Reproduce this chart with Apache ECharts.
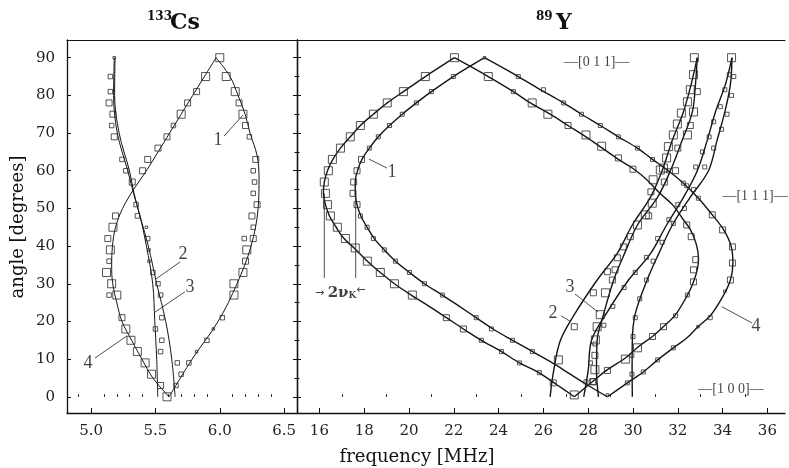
<!DOCTYPE html>
<html><head><meta charset="utf-8">
<script src="https://cdn.jsdelivr.net/npm/echarts@6.0.0/dist/echarts.min.js"></script>
<style>html,body{margin:0;padding:0;background:#fff}#c{width:789px;height:468px}</style>
</head><body><div id="c"></div>
<script>
// ---------- tick values ----------
var csTicks = [5.0, 5.5, 6.0, 6.5];
var csMinorTicks = [4.9, 5.1, 5.2, 5.3, 5.4, 5.6, 5.7, 5.8, 5.9, 6.1, 6.2, 6.3, 6.4];
var yTicks = [16, 18, 20, 22, 24, 26, 28, 30, 32, 34, 36];
var yMinorTicks = [17, 19, 21, 23, 25, 27, 29, 31, 33, 35];
var angleTicks = [0, 10, 20, 30, 40, 50, 60, 70, 80, 90];
var angleMinorTicks = [5, 15, 25, 35, 45, 55, 65, 75, 85];

// ---------- 133Cs curves [frequency MHz, angle deg] ----------
var csCurve1 = [[5.606,0],[5.785,10],[5.987,20],[6.134,30],[6.243,40],[6.298,50],[6.305,58],[6.29,64],[6.235,70],[6.197,75],[6.142,80],[6.08,85],[5.971,90]];
var csCurve4 = [[5.971,90],[5.79,80],[5.61,70],[5.43,60],[5.33,55],[5.245,50],[5.19,45],[5.166,40],[5.16,35],[5.168,30],[5.2,25],[5.24,20],[5.315,15],[5.395,10],[5.48,5],[5.606,0]];
var csCurve2 = [[5.186,90],[5.183,80],[5.218,70],[5.298,60],[5.334,54],[5.38,48],[5.445,40],[5.51,30],[5.58,20],[5.627,10],[5.653,0]];
var csCurve3 = [[5.18,90],[5.175,80],[5.204,70],[5.285,60],[5.33,54],[5.38,48],[5.43,40],[5.479,30],[5.495,20],[5.51,10],[5.518,0]];

// 133Cs measured points
var csBig = [[6.0,90],[5.89,85],[6.05,85],[6.12,81],[5.70,75],[6.18,75],[5.17,45],[5.15,39],[5.12,33],[5.16,30],[5.20,27],[5.27,18],[5.31,15],[5.36,12],[5.42,9],[5.47,6],[5.59,0],[6.21,39],[6.18,33],[6.11,30],[6.11,27]];
var csMedium = [[5.82,81],[5.75,78],[6.15,78],[6.2,72],[5.59,69],[5.52,66],[6.28,63],[5.44,63],[5.40,60],[5.32,57],[6.29,51],[5.19,48],[6.25,48],[6.26,42],[5.13,42],[6.2,36],[5.24,21],[5.54,3],[5.14,78],[5.17,75],[5.18,69]];
var csSmall = [[5.64,72],[6.23,69],[6.26,60],[6.27,57],[6.26,54],[6.26,45],[6.19,42],[5.15,85],[5.15,81],[5.16,72],[5.24,63],[5.27,60],[5.35,51],[5.36,48],[5.44,42],[5.14,36],[5.14,27],[5.48,33],[5.52,30],[5.54,27],[5.55,21],[5.50,18],[5.55,15],[5.54,12],[5.67,9],[5.70,6],[5.66,3],[6.02,21],[5.90,15],[5.76,9]];
var csTiny = [[5.18,90],[5.43,45],[5.45,39],[5.45,36],[5.95,18],[5.82,12]];

// ---------- 89Y curves ----------
var yALeft = [[22.03,90],[20.73,85],[19.75,81],[19.03,78],[18.41,75],[17.83,72],[17.38,69],[16.94,66],[16.6,63],[16.36,60],[16.22,57],[16.18,54],[16.27,51],[16.45,48],[16.75,45],[17.1,42],[17.55,39.5],[18.14,36],[18.72,33],[19.35,30],[20.1,27],[20.9,24],[21.67,21],[22.43,18],[23.23,15],[24.13,12],[24.93,9],[25.83,6.3],[26.6,3.2],[27.38,0]];
var yARight = [[27.38,0],[28.19,4],[28.86,7.2],[29.66,10.3],[30.24,13.3],[30.87,16],[31.36,18.6],[31.9,21.8],[32.43,27],[32.7,30.5],[32.88,34],[32.92,37],[32.8,41],[32.55,44.5],[32.25,47],[31.76,51],[31.2,54],[30.64,57.5],[30.0,60.6],[29.35,63],[28.63,66],[27.9,69],[27.1,72],[26.3,75],[25.42,78],[24.66,81],[23.54,85],[22.03,90]];
var yBLeft = [[23.37,90],[21.98,85],[21.0,81],[20.33,78],[19.7,75],[19.13,72],[18.63,69],[18.23,66],[17.9,63],[17.7,60],[17.6,57],[17.6,54],[17.68,51],[17.85,48],[18.13,45],[18.45,42],[18.9,39],[19.4,36],[20.02,33],[20.69,30],[21.49,27],[22.25,24],[23.0,21],[23.75,18],[24.62,15],[25.52,12],[26.4,9],[27.2,6],[28.0,3],[28.86,0]];
var yBRight = [[28.86,0],[29.75,3.7],[30.46,6.6],[31.1,9.8],[31.8,13],[32.4,15.6],[32.9,18.6],[33.45,21.5],[34.0,26.5],[34.35,31],[34.46,35.5],[34.38,40],[34.05,44.3],[33.54,48.3],[32.92,52.7],[32.25,56.7],[31.58,60],[30.87,63],[30.2,66],[29.35,69],[28.54,72],[27.7,75],[26.9,78],[25.9,81.4],[24.88,85],[23.37,90]];
var yA2 = [[26.3,0],[26.46,7],[26.76,15],[27.4,22],[28.4,31],[29.29,38],[29.97,45.6],[30.78,53],[31.3,60],[31.75,68],[32.25,75.6],[32.6,83],[32.87,90]];
var yA3 = [[28.46,0],[28.37,7],[28.4,15],[28.69,22],[29.14,31],[29.62,38],[30.2,45.6],[31.1,53],[31.67,60],[32.19,68],[32.65,75.6],[32.79,83],[32.87,90]];
var yB2 = [[27.8,0],[28.0,7],[28.15,15],[28.8,22],[29.8,31],[30.78,38],[31.5,45.6],[32.26,53],[32.87,60],[33.31,68],[33.68,75.6],[34.13,83],[34.42,90]];
var yB3 = [[29.97,0],[29.96,7],[29.97,15],[30.1,22],[30.63,31],[31.15,38],[31.76,45.6],[32.56,53],[33.37,60],[33.75,68],[34.1,75.6],[34.35,83],[34.42,90]];
var yKappa1 = [[16.22,54],[16.22,31.5]];
var yKappa2 = [[17.62,54],[17.62,31.5]];

// 89Y measured points
var yBig = [[22.03,90],[20.73,85],[19.75,81],[19.03,78],[18.41,75],[17.83,72],[17.38,69],[16.94,66],[16.58,63],[16.4,60],[16.22,57],[16.27,54],[16.36,51],[16.49,48],[16.8,45],[17.16,42],[17.6,39.5],[18.14,36],[18.72,33],[19.35,30],[20.15,27],
  [23.54,85],[25.5,78],[26.2,75],[27.9,69.5],[28.6,66.5],[30.2,13],[29.66,10],[27.38,0.5],
  [32.74,90],[32.7,85.5],[32.56,81.5],[32.43,78.3],[32.16,75.3],[31.98,72.4],[31.8,69.5],[31.58,66.4],[31.5,63.4],[31.22,60.2],[30.9,57.6],[30.86,51.4],[30.55,48.3],[30.2,45.6],[32.7,75.6],[32.43,69.5],[31.36,60.7],[28.77,27.6],[28.54,21.8],[28.4,18.6],[28.32,15.1],[28.3,7.2],[26.67,9.8],[34.4,90]];
var yMedium = [[21.67,21],[22.43,18],[17.88,63],[17.68,60],[17.53,57],[17.5,54],[17.68,51],[27.1,72],[29.35,63.4],[30.0,60.4],[32.4,45.6],[32.6,42.5],[32.8,36.4],[32.7,33.7],[32.7,30.5],[31.36,18.6],[30.87,16],[28.86,7],[28.2,4],[34.44,39.8],[34.44,35.5],[34.35,31],[33.54,48.3],[34.0,44.3],
  [32.87,81],[32.56,72],[32.0,66],[31.9,60],[31.4,57],[30.8,54.4],[30.7,48],[29.88,42.5],[29.57,39.8],[29.3,36.9],[29.2,33.7],[28.86,33.2],[29.08,31],[28.23,27.6],[27.38,18.6],[28.3,11],[28.23,4],[26.44,3.7]];
var ySmall = [[21.98,85],[21.0,81],[20.33,78],[19.7,75],[19.13,72],[18.63,69],[18.23,66],[17.83,48],[18.13,45],[18.41,42],[18.9,39],[19.4,36],[20.02,33],[20.69,30],[21.49,27],[23.0,21],[23.68,18],[24.62,15],[25.51,12],[23.23,15],[24.13,12],[24.93,9],[25.82,6.4],
  [24.88,85],[26.0,81.5],[26.9,78],[27.7,75],[28.54,72],[29.35,69],[30.2,66],[30.87,63],[31.58,60],[32.25,56.7],[32.92,52.7],[33.45,21],[31.8,13],[31.1,9.8],[30.46,6.6],[29.75,3.7],
  [24.66,81],[32.43,27],[31.9,21.5],
  [34.3,85.5],[34.1,81.5],[33.9,77],[33.6,73],[33.4,69],[33.1,65],[32.8,61],[32.4,56],[32.0,51],[31.6,47],[31.1,42],[30.6,37],[30.1,33],[29.6,29],[29.1,24],[28.7,19],[28.3,14],[28.1,9],[27.9,4],
  [34.5,85],[34.4,80],[34.2,75],[33.95,71],[33.6,66],[33.2,61],[32.7,55],[32.3,50],[31.8,46],[31.3,41],[30.9,36],[30.6,31],[30.3,26],[30.1,21],[30.0,16],[29.95,11],[29.95,6]];
var yTiny = [[23.37,90],[34.1,28],[32.9,18.6],[28.86,0.5]];

// ---------- annotation texts [frequency, angle, text] ----------
var csLabels = [[5.987,68.2,'1'],[5.715,37.7,'2'],[5.769,29.2,'3'],[4.977,9.0,'4']];
var csPointers = [[[6.033,69.2],[6.181,74.8]],[[5.692,35.8],[5.505,31.3]],[[5.73,27.9],[5.49,22.3]],[[5.031,10.3],[5.28,16.2]]];
var yLabels = [[19.24,59.7,'1'],[26.43,22.3,'2'],[27.19,29.2,'3'],[35.49,18.8,'4']];
var yPointers = [[[19.02,60.7],[18.21,63.1]],[[26.79,21.5],[27.23,19.9]],[[27.41,27.3],[28.44,22.5]],[[35.31,19.6],[33.97,23.9]]];
var yDirLabels = [[28.38,88.9,'—[0 1 1]—'],[35.45,53.3,'—[1 1 1]—'],[34.37,2.1,'—[1 0 0]—']];
var yKappaLabel = [[16.93,27.6,'k']];

var SERIF = 'DejaVu Serif';
var YMIN = -4.3, YMAX = 94.7;

function lineS(data, xi, yi, w) {
  return {type:'line', data:data, xAxisIndex:xi, yAxisIndex:yi, smooth:0.35, symbol:'none',
    lineStyle:{color:'#151515', width:w}, silent:true, z:3};
}
function ptrS(data, xi, yi) {
  return {type:'line', data:data, xAxisIndex:xi, yAxisIndex:yi, symbol:'none',
    lineStyle:{color:'#222', width:0.8}, silent:true, z:3};
}
function sqS(data, xi, yi, size, bw) {
  return {type:'scatter', data:data, xAxisIndex:xi, yAxisIndex:yi, symbol:'rect', symbolSize:size,
    itemStyle:{color:'rgba(0,0,0,0)', borderColor:'#2a2a2a', borderWidth:bw}, silent:true, z:4};
}
function txtS(data, xi, yi, font, size) {
  return {type:'scatter', data:data, xAxisIndex:xi, yAxisIndex:yi, symbolSize:0, silent:true, z:6,
    label:{show:true, position:'inside', formatter:function(p){return p.value[2];},
      fontFamily:font, fontSize:size, color:'#111'}};
}

var series = [
  lineS(csCurve1,0,0,1), lineS(csCurve4,0,0,1), lineS(csCurve2,0,0,1), lineS(csCurve3,0,0,1),
  sqS(csBig,0,0,8,1), sqS(csMedium,0,0,6,1), sqS(csSmall,0,0,4.5,1), sqS(csTiny,0,0,2.5,1),
  txtS(csLabels,0,0,'Liberation Serif',18),
  lineS(yALeft,3,3,1.4), lineS(yARight,3,3,1.4), lineS(yBLeft,3,3,1.4), lineS(yBRight,3,3,1.4),
  lineS(yA2,3,3,1.4), lineS(yA3,3,3,1.4), lineS(yB2,3,3,1.4), lineS(yB3,3,3,1.4),
  ptrS(yKappa1,3,3), ptrS(yKappa2,3,3),
  sqS(yBig,3,3,8,1), sqS(yMedium,3,3,6,1), sqS(ySmall,3,3,4,1), sqS(yTiny,3,3,2.5,1),
  txtS(yLabels,3,3,'Liberation Serif',18),
  txtS(yDirLabels,3,3,'Liberation Serif',14),
  {type:'scatter', data:yKappaLabel, xAxisIndex:3, yAxisIndex:3, symbolSize:0, silent:true, z:6,
    label:{show:true, position:'inside', formatter:'{a|→ }{b|2ν}{s|K}{c|←}',
      rich:{a:{fontFamily:'DejaVu Sans', fontSize:11, color:'#111'},
            c:{fontFamily:'DejaVu Sans', fontSize:11, color:'#111', padding:[0,0,6,0]},
            b:{fontFamily:SERIF, fontSize:15, fontWeight:'bold', color:'#111'},
            s:{fontFamily:SERIF, fontSize:9, fontWeight:'bold', color:'#111', padding:[6,0,0,0]}}}}
];
csPointers.forEach(function(p){ series.push(ptrS(p,0,0)); });
yPointers.forEach(function(p){ series.push(ptrS(p,3,3)); });

var AX = '#111';
function xMain(g, min, max, ticks, fmt) {
  return {gridIndex:g, type:'value', position:'bottom', min:min, max:max,
    axisLine:{onZero:false, lineStyle:{color:AX, width:1.3}},
    axisTick:{inside:true, length:5, customValues:ticks, lineStyle:{color:AX}},
    axisLabel:{customValues:ticks, formatter:fmt, margin:11, fontFamily:SERIF, fontSize:15, color:'#222'},
    splitLine:{show:false}};
}
function xTop(g, min, max) {
  return {gridIndex:g, type:'value', position:'top', min:min, max:max,
    axisLine:{onZero:false, lineStyle:{color:AX, width:1.2}}, axisTick:{show:false}, axisLabel:{show:false}, splitLine:{show:false}};
}
function xMinor(g, min, max, ticks) {
  return {gridIndex:g, type:'value', position:'bottom', min:min, max:max,
    axisLine:{show:false}, axisTick:{inside:true, length:2.5, customValues:ticks, lineStyle:{color:AX}},
    axisLabel:{show:false}, splitLine:{show:false}};
}
function yAx(g, pos, len, ticks, line, labels) {
  var a = {gridIndex:g, type:'value', position:pos, min:YMIN, max:YMAX,
    axisLine:{show:line, onZero:false, lineStyle:{color:AX, width:1.3}},
    axisTick:{inside:true, length:len, customValues:ticks, lineStyle:{color:AX}},
    axisLabel:{show:false}, splitLine:{show:false}};
  if (labels) a.axisLabel = {show:true, customValues:ticks, margin:12, fontFamily:SERIF, fontSize:15, color:'#222'};
  return a;
}

var csMin = 4.813, csMax = 6.6, yMin = 15.0, yMax = 36.786;
var option = {
  animation:false,
  backgroundColor:'#fff',
  grid:[
    {left:67, top:40, width:230, height:373},
    {left:67, top:40, width:230, height:373},
    {left:297, top:40, width:488, height:373},
    {left:297, top:40, width:488, height:373}
  ],
  xAxis:[
    xMain(0, csMin, csMax, csTicks, function(v){return v.toFixed(1);}),
    xTop(0, csMin, csMax),
    xMinor(1, csMin, csMax, csMinorTicks),
    xMain(2, yMin, yMax, yTicks, function(v){return String(v);}),
    xTop(2, yMin, yMax),
    xMinor(3, yMin, yMax, yMinorTicks)
  ],
  yAxis:[
    yAx(0, 'left', 4, angleTicks, true, true),
    yAx(0, 'right', 4, angleTicks, true, false),
    yAx(1, 'right', 2.5, angleMinorTicks, false, false),
    yAx(2, 'left', 4, angleTicks, true, false),
    yAx(3, 'left', 2.5, angleMinorTicks, false, false)
  ],
  series:series,
  graphic:[
    {type:'text', x:147, y:11, style:{text:'133', font:'bold 12px "DejaVu Serif"', fill:'#111'}},
    {type:'text', x:170, y:12, style:{text:'Cs', font:'bold 22px "DejaVu Serif"', fill:'#111'}},
    {type:'text', x:536, y:11, style:{text:'89', font:'bold 12px "DejaVu Serif"', fill:'#111'}},
    {type:'text', x:556, y:12, style:{text:'Y', font:'bold 22px "DejaVu Serif"', fill:'#111'}},
    {type:'text', x:417, y:457, style:{text:'frequency [MHz]', font:'18px "DejaVu Serif"', fill:'#111', align:'center', verticalAlign:'middle', textAlign:'center', textVerticalAlign:'middle'}},
    {type:'text', x:18, y:227, rotation:Math.PI/2, style:{text:'angle [degrees]', font:'18px "DejaVu Serif"', fill:'#111', align:'center', verticalAlign:'middle', textAlign:'center', textVerticalAlign:'middle'}}
  ]
};
var chart = echarts.init(document.getElementById('c'), null, {renderer:'canvas'});
chart.setOption(option);
</script></body></html>
